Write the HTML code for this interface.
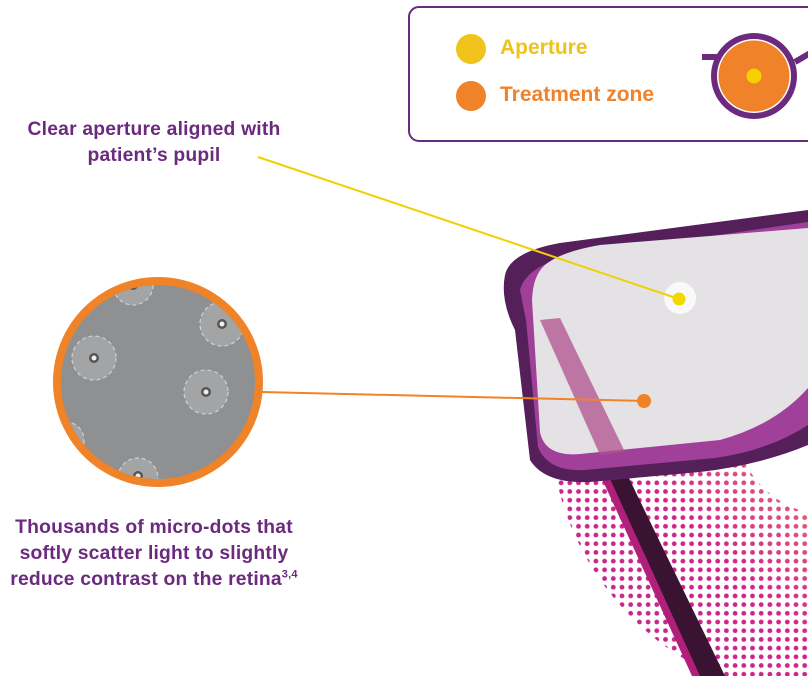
<!DOCTYPE html>
<html><head><meta charset="utf-8"><style>
html,body{margin:0;padding:0;background:#fff;}
body{width:808px;height:676px;overflow:hidden;position:relative;font-family:"Liberation Sans","DejaVu Sans",sans-serif;}
.t{position:absolute;color:#6b2a7e;font-weight:bold;font-size:19.3px;text-align:center;line-height:26px;letter-spacing:0.2px;}
.lg{position:absolute;font-weight:bold;font-size:21px;}
</style></head><body>
<svg width="808" height="676" style="position:absolute;left:0;top:0">
<defs>
<pattern id="dp" width="8.7" height="8.7" patternUnits="userSpaceOnUse"><circle cx="4.3" cy="4.3" r="2.4" fill="#fff"/></pattern>
<mask id="ringm"><path d="M550,420 A280,280 0 1,1 1110,420 A280,280 0 1,1 550,420 Z M735,420 A95,95 0 1,0 925,420 A95,95 0 1,0 735,420 Z" fill="url(#dp)" fill-rule="evenodd"/></mask>
<linearGradient id="dg" gradientUnits="userSpaceOnUse" x1="620" y1="620" x2="808" y2="440"><stop offset="0" stop-color="#c42890"/><stop offset="0.45" stop-color="#d4228a"/><stop offset="1" stop-color="#e67a6a"/></linearGradient>
<clipPath id="cc"><circle cx="158" cy="382" r="97"/></clipPath>
</defs>
<rect x="540" y="330" width="268" height="346" fill="url(#dg)" mask="url(#ringm)"/>
<path d="M598,470 L625,470 L725,676 L695,676 Z" fill="#3a1232"/>
<path d="M598,470 L606,470 L700,676 L692,676 Z" fill="#b0207a"/>
<path d="M505,275 Q510,252 560,243 L808,210 L808,445 Q760,465 700,472 L590,482 Q545,484 530,460 L515,330 Q500,300 505,275 Z" fill="#55205a"/>
<path d="M520,290 Q525,270 560,258 L808,222 L808,425 Q770,450 715,458 L585,470 Q548,472 538,447 L526,320 Z" fill="#a04098"/>
<path d="M545,265 Q560,252 600,245 L808,228 L808,388 Q775,425 720,440 L580,454 Q545,457 540,432 L532,300 Q533,275 545,265 Z" fill="#e4e2e4"/>
<path d="M540,320 L560,318 L625,452 L600,455 Z" fill="#b0508f" opacity="0.75"/>
<circle cx="680" cy="298" r="16" fill="#fff" opacity="0.8"/>
<line x1="258" y1="157" x2="679" y2="299" stroke="#f0d000" stroke-width="2"/>
<circle cx="679" cy="299" r="6.5" fill="#f5d800"/>
<line x1="262" y1="392" x2="644" y2="401" stroke="#f08228" stroke-width="2"/>
<circle cx="644" cy="401" r="7" fill="#f08228"/>
<circle cx="158" cy="382" r="105" fill="#f08228"/>
<circle cx="158" cy="382" r="97" fill="#8f9091"/>
<g clip-path="url(#cc)" fill="#a3a4a5" stroke="#d0d0d0" stroke-width="1.2" stroke-dasharray="4 3">
<circle cx="94" cy="358" r="22"/><circle cx="222" cy="324" r="22"/><circle cx="206" cy="392" r="22"/>
<circle cx="138" cy="478" r="20"/><circle cx="133" cy="285" r="20"/><circle cx="66" cy="440" r="18"/>
</g>
<g clip-path="url(#cc)" fill="#555">
<circle cx="94" cy="358" r="5"/><circle cx="222" cy="324" r="5"/><circle cx="206" cy="392" r="5"/>
<circle cx="138" cy="476" r="5"/><circle cx="133" cy="285" r="5"/>
</g>
<g clip-path="url(#cc)" fill="#eee">
<circle cx="94" cy="358" r="2.5"/><circle cx="222" cy="324" r="2.5"/><circle cx="206" cy="392" r="2.5"/>
<circle cx="138" cy="476" r="2.5"/><circle cx="133" cy="285" r="2.5"/>
</g>
<rect x="409" y="7" width="420" height="134" rx="10" fill="#fff" stroke="#6b2a7e" stroke-width="2"/>
<circle cx="471" cy="49" r="15" fill="#f0c41c"/>
<circle cx="471" cy="96" r="15" fill="#f0822a"/>
<line x1="702" y1="57" x2="720" y2="57" stroke="#6b2a7e" stroke-width="6"/>
<line x1="795" y1="62" x2="812" y2="52" stroke="#6b2a7e" stroke-width="6"/>
<circle cx="754" cy="76" r="43" fill="#6b2a7e"/>
<circle cx="754" cy="76" r="37" fill="#fff"/>
<circle cx="754" cy="76" r="35.5" fill="#f0822a"/>
<circle cx="754" cy="76" r="7.5" fill="#f5d000"/>
</svg>
<div class="lg" style="left:500px;top:36px;color:#efc31c">Aperture</div>
<div class="lg" style="left:500px;top:83px;color:#f0822a">Treatment zone</div>
<div class="t" style="left:0;width:308px;top:117px">Clear aperture aligned with<br>patient’s pupil</div>
<div class="t" style="left:0;width:308px;top:515px">Thousands of micro-dots that<br>softly scatter light to slightly<br>reduce contrast on the retina<sup style="font-size:11px;line-height:0">3,4</sup></div>
</body></html>
